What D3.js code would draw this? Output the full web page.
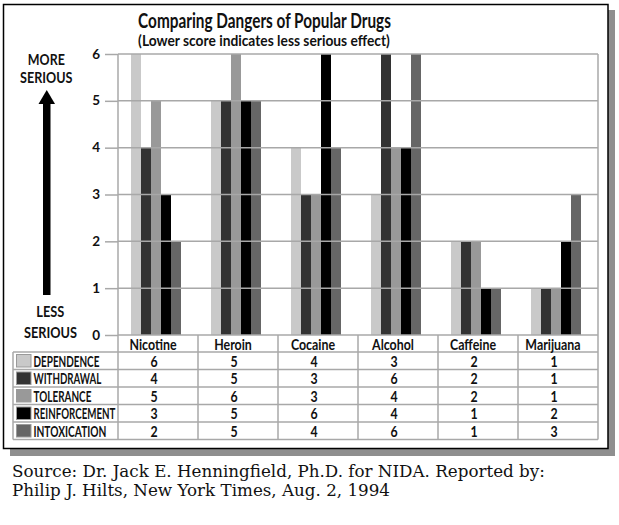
<!DOCTYPE html>
<html><head><meta charset="utf-8">
<script src="https://cdn.jsdelivr.net/npm/d3@7/dist/d3.min.js"></script>
<style>
html,body{margin:0;padding:0;background:#fff;}
svg{display:block;}
</style></head>
<body>
<svg id="chart" width="619" height="525"></svg>
<script>
const categories = ["Nicotine","Heroin","Cocaine","Alcohol","Caffeine","Marijuana"];
const seriesNames = ["DEPENDENCE","WITHDRAWAL","TOLERANCE","REINFORCEMENT","INTOXICATION"];
const dependence    = [6,5,4,3,2,1];
const withdrawal    = [4,5,3,6,2,1];
const tolerance     = [5,6,3,4,2,1];
const reinforcement = [3,5,6,4,1,2];
const intoxication  = [2,5,4,6,1,3];
const yTicks = [0,1,2,3,4,5,6];
const titleText = "Comparing Dangers of Popular Drugs";
const subtitleText = "(Lower score indicates less serious effect)";
const sourceLines = ["Source: Dr. Jack E. Henningfield, Ph.D. for NIDA. Reported by:",
                     "Philip J. Hilts, New York Times, Aug. 2, 1994"];

const seriesValues = [dependence, withdrawal, tolerance, reinforcement, intoxication];
const colors = ["#c9c9c9","#333333","#999999","#000000","#666666"];
const legendWidths = [66,68,58,82,73];
const FONT = "Lato,'Open Sans','DejaVu Sans',sans-serif";
const gridColor = "#a8a8a8";
const ink = "#111111";

const svg = d3.select("#chart");

// condensed text helper: scale horizontally to a target width or by a ratio
function ctext(parent, x, yy, txt, o){
  const g = parent.append("g");
  const t = g.append("text").attr("x",0).attr("y",0)
    .attr("text-anchor",o.anchor||"start").attr("font-family",o.family||FONT)
    .attr("font-weight",o.weight||"bold").attr("font-size",o.size).attr("fill",ink).text(txt);
  const len = t.node().getComputedTextLength();
  const sx = o.width ? o.width/len : (o.ratio||1);
  g.attr("transform",`translate(${x},${yy}) scale(${sx},1)`);
  return t;
}

// frame shadow + border
svg.append("rect").attr("x",10).attr("y",10).attr("width",605).attr("height",446).attr("fill","#8f8f8f");
svg.append("rect").attr("x",3.5).attr("y",4.5).attr("width",604.5).attr("height",444).attr("fill","#fff")
   .attr("stroke","#000").attr("stroke-width",1.5);

const y = d3.scaleLinear().domain([0,6]).range([335,54]);
const x0 = d3.scaleBand().domain(categories).range([118,598]);
const x1 = d3.scaleBand().domain(seriesNames).range([13,63]);

// title
ctext(svg,264.5,28,titleText,{size:20.5,anchor:"middle",width:253});
ctext(svg,264,45.5,subtitleText,{size:14.5,anchor:"middle",width:252});

// bars
const g = svg.append("g");
categories.forEach((c,ci)=>{
  seriesNames.forEach((s,si)=>{
    const v = seriesValues[si][ci];
    g.append("rect").attr("x",x0(c)+x1(s)).attr("y",y(v)).attr("width",x1.bandwidth())
     .attr("height",y(0)-y(v)).attr("fill",colors[si]);
  });
});

// gridlines over bars
svg.append("g").selectAll("line").data(yTicks).join("line")
  .attr("x1",118).attr("x2",598).attr("y1",d=>y(d)).attr("y2",d=>y(d))
  .attr("stroke",gridColor).attr("stroke-width",1.5);

// axis
const axis = d3.axisLeft(y).tickValues(yTicks).tickSize(13).tickPadding(5).tickFormat(d3.format("d"));
const ag = svg.append("g").attr("transform","translate(118,0)").call(axis);
ag.select(".domain").remove();
ag.selectAll(".tick line").attr("stroke",gridColor).attr("stroke-width",1.5);
ag.selectAll(".tick text").attr("font-family",FONT).attr("font-weight","bold").attr("font-size",13.5)
  .attr("fill",ink).attr("dy","0.3em");

// table
const rowTop = 352, rowH = 17.5, nRows = seriesNames.length;
const tableBottom = rowTop + rowH*nRows;
const tl = svg.append("g").attr("stroke",gridColor).attr("stroke-width",1.5);
tl.append("line").attr("x1",118).attr("x2",118).attr("y1",54).attr("y2",tableBottom);
tl.append("line").attr("x1",598).attr("x2",598).attr("y1",54).attr("y2",tableBottom);
tl.append("line").attr("x1",13).attr("x2",13).attr("y1",rowTop).attr("y2",tableBottom);
categories.slice(1).forEach(c=>{
  tl.append("line").attr("x1",x0(c)).attr("x2",x0(c)).attr("y1",y(0)).attr("y2",tableBottom);
});
for(let i=0;i<=nRows;i++){
  tl.append("line").attr("x1",13).attr("x2",598).attr("y1",rowTop+i*rowH).attr("y2",rowTop+i*rowH);
}
// header labels
categories.forEach(c=>ctext(svg,x0(c)+35,349.5,c,{size:15.5,anchor:"middle",ratio:0.8}));
// rows
seriesNames.forEach((s,si)=>{
  const top = rowTop + si*rowH;
  svg.append("rect").attr("x",16.5).attr("y",top+2.5).attr("width",14.5).attr("height",12.5)
    .attr("fill",colors[si]).attr("stroke","#9a9a9a").attr("stroke-width",1);
  ctext(svg,33.5,top+14.5,s,{size:14.5,width:legendWidths[si]});
  categories.forEach((c,ci)=>{
    ctext(svg,x0(c)+36,top+14.5,String(seriesValues[si][ci]),{size:14.5,anchor:"middle",ratio:0.85});
  });
});

// left serious labels + arrow
ctext(svg,46.3,65,"MORE",{size:14.5,anchor:"middle",width:37});
ctext(svg,46.3,83,"SERIOUS",{size:14.5,anchor:"middle",width:52.5});
ctext(svg,50.3,317,"LESS",{size:14.5,anchor:"middle",width:28});
ctext(svg,50.5,338,"SERIOUS",{size:14.5,anchor:"middle",width:53});
svg.append("rect").attr("x",43).attr("y",102).attr("width",7.5).attr("height",193).attr("fill","#000");
svg.append("path").attr("d","M46.75,90 L55,104 L38.5,104 Z").attr("fill","#000");

// source
const srcWidths = [533, null];
let srcSize = 16;
sourceLines.forEach((l,i)=>{
  const t = svg.append("text").attr("x",12).attr("y",477+i*18.5)
    .attr("font-family","'DejaVu Serif','Liberation Serif',serif").attr("font-size",srcSize).attr("fill","#111").text(l);
  if(srcWidths[i]){
    srcSize = srcSize*srcWidths[i]/t.node().getComputedTextLength();
    t.attr("font-size",srcSize);
  } else t.attr("font-size",srcSize);
});
</script>
</body></html>
